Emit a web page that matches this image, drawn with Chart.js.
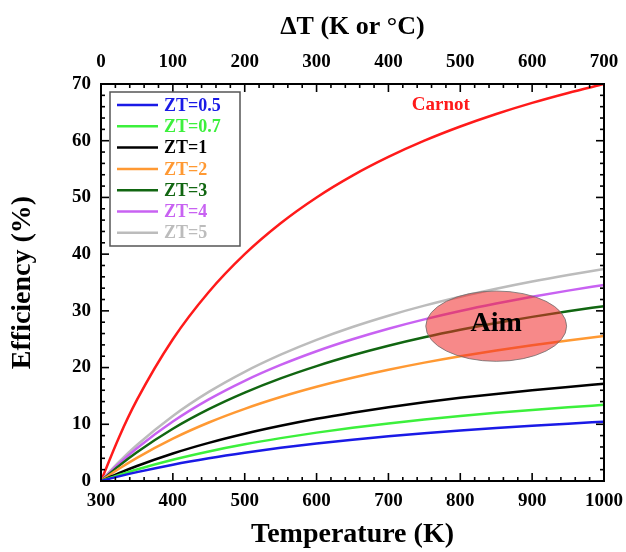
<!DOCTYPE html>
<html lang="en">
<head>
<meta charset="UTF-8">
<title>Efficiency vs Temperature</title>
<style>
  html, body { margin: 0; padding: 0; background: #fff; }
  #wrap { width: 626px; height: 552px; }
</style>
</head>
<body>
<div id="wrap"><canvas id="eff"></canvas></div>
<script src="https://cdn.jsdelivr.net/npm/chart.js"></script>
<script>
// hot side temperature (K), cold side fixed at 300 K
const temperature = [300, 325, 350, 400, 450, 500, 550, 600, 650, 700, 750, 800, 850, 900, 950, 1000];

// efficiency (%)
const carnot = [0, 7.69, 14.29, 25.0, 33.33, 40.0, 45.45, 50.0, 53.85, 57.14, 60.0, 62.5, 64.71, 66.67, 68.42, 70.0];
const zt05 = [0, 0.82, 1.56, 2.88, 4.01, 4.99, 5.85, 6.60, 7.27, 7.87, 8.41, 8.90, 9.34, 9.74, 10.11, 10.45];
const zt07 = [0, 1.06, 2.04, 3.75, 5.21, 6.47, 7.56, 8.53, 9.39, 10.15, 10.84, 11.46, 12.02, 12.53, 13.00, 13.43];
const zt1 = [0, 1.38, 2.64, 4.85, 6.72, 8.33, 9.73, 10.96, 12.04, 13.01, 13.88, 14.66, 15.36, 16.01, 16.59, 17.13];
const zt2 = [0, 2.15, 4.09, 7.47, 10.31, 12.72, 14.80, 16.61, 18.20, 19.61, 20.87, 22.00, 23.01, 23.94, 24.78, 25.55];
const zt3 = [0, 2.67, 5.07, 9.21, 12.66, 15.58, 18.09, 20.26, 22.16, 23.84, 25.33, 26.66, 27.86, 28.94, 29.93, 30.83];
const zt4 = [0, 3.05, 5.78, 10.48, 14.38, 17.66, 20.46, 22.88, 24.99, 26.85, 28.50, 29.97, 31.29, 32.49, 33.57, 34.56];
const zt5 = [0, 3.35, 6.34, 11.47, 15.71, 19.26, 22.28, 24.89, 27.16, 29.15, 30.92, 32.49, 33.90, 35.18, 36.33, 37.38];

const seriesLabels = ['ZT=0.5', 'ZT=0.7', 'ZT=1', 'ZT=2', 'ZT=3', 'ZT=4', 'ZT=5'];
const seriesValues = [zt05, zt07, zt1, zt2, zt3, zt4, zt5];
const seriesColors = ['#1a1ae6', '#3cf03c', '#000000', '#ff9933', '#116611', '#c862f2', '#bcbcbc'];

const SERIF = '"Liberation Serif", "Times New Roman", serif';
Chart.defaults.font.family = SERIF;
Chart.defaults.font.weight = 'bold';
Chart.defaults.color = '#000';

const toPoints = vals => vals.map((v, i) => ({ x: temperature[i], y: v }));
const plainTick = v => String(v);

const datasets = seriesValues.map((vals, i) => ({
    label: seriesLabels[i],
    data: toPoints(vals),
    borderColor: seriesColors[i],
    backgroundColor: seriesColors[i]
}));
datasets.push({
    label: 'Carnot',
    data: toPoints(carnot),
    borderColor: '#ff1a1a',
    backgroundColor: '#ff1a1a'
});

function line(ctx, x1, y1, x2, y2) {
    ctx.beginPath();
    ctx.moveTo(x1, y1);
    ctx.lineTo(x2, y2);
    ctx.stroke();
}

// fixed axis boxes, labels may overhang
function fixBox(size) {
    return s => {
        if (s.isHorizontal()) s.height = size; else s.width = size;
        s.paddingLeft = s.paddingRight = s.paddingTop = s.paddingBottom = 0;
    };
}

// frame, inward ticks, annotations and the boxed legend
const decorations = {
    id: 'decorations',
    afterDatasetsDraw(chart) {
        const ctx = chart.ctx;
        const a = chart.chartArea;
        const xs = chart.scales.x, ys = chart.scales.y;
        ctx.save();

        // Aim ellipse
        const cx = xs.getPixelForValue(850), cy = ys.getPixelForValue(27.3);
        const rx = xs.getPixelForValue(948) - cx, ry = cy - ys.getPixelForValue(33.5);
        ctx.beginPath();
        ctx.ellipse(cx, cy, rx, ry, 0, 0, Math.PI * 2);
        ctx.fillStyle = 'rgba(240, 40, 40, 0.55)';
        ctx.fill();
        ctx.strokeStyle = 'rgba(110, 110, 110, 0.8)';
        ctx.lineWidth = 1;
        ctx.stroke();
        ctx.fillStyle = '#000';
        ctx.font = 'bold 28px ' + SERIF;
        ctx.textAlign = 'center';
        ctx.textBaseline = 'middle';
        ctx.fillText('Aim', cx, cy - 2);

        // Carnot label
        ctx.fillStyle = '#ff1a1a';
        ctx.font = 'bold 19px ' + SERIF;
        ctx.fillText('Carnot', xs.getPixelForValue(773), ys.getPixelForValue(66.3));

        // ticks
        ctx.strokeStyle = '#000';
        ctx.lineWidth = 1.6;
        for (let v = 300; v <= 1000; v += 20) {
            const px = xs.getPixelForValue(v);
            const len = (v - 300) % 100 === 0 ? 8 : 4;
            line(ctx, px, a.bottom, px, a.bottom - len);
            line(ctx, px, a.top, px, a.top + len);
        }
        for (let v = 0; v <= 70; v += 2) {
            const py = ys.getPixelForValue(v);
            const len = v % 10 === 0 ? 8 : 4;
            line(ctx, a.left, py, a.left + len, py);
            line(ctx, a.right, py, a.right - len, py);
        }

        // frame
        ctx.lineWidth = 2;
        ctx.strokeRect(a.left, a.top, a.right - a.left, a.bottom - a.top);

        // legend
        const bx = 110, by = 92, bw = 130, bh = 154, step = 21.3;
        ctx.fillStyle = '#fff';
        ctx.fillRect(bx, by, bw, bh);
        ctx.strokeStyle = '#555';
        ctx.lineWidth = 1.5;
        ctx.strokeRect(bx, by, bw, bh);
        ctx.font = 'bold 18px ' + SERIF;
        ctx.textAlign = 'left';
        ctx.textBaseline = 'middle';
        seriesLabels.forEach((lab, i) => {
            const yy = by + 13 + i * step;
            ctx.strokeStyle = seriesColors[i];
            ctx.lineWidth = 2.5;
            line(ctx, bx + 7, yy, bx + 48, yy);
            ctx.fillStyle = seriesColors[i];
            ctx.fillText(lab, bx + 54, yy + 1);
        });
        ctx.restore();
    }
};

new Chart(document.getElementById('eff'), {
    type: 'line',
    data: { datasets: datasets },
    options: {
        responsive: true,
        maintainAspectRatio: false,
        animation: false,
        layout: { padding: { left: 0, right: 22, top: 0, bottom: 0 } },
        elements: {
            point: { radius: 0 },
            line: { borderWidth: 2.5, cubicInterpolationMode: 'monotone' }
        },
        plugins: {
            legend: { display: false },
            tooltip: { enabled: false }
        },
        scales: {
            x: {
                type: 'linear',
                position: 'bottom',
                min: 300,
                max: 1000,
                ticks: { stepSize: 100, padding: 9, autoSkip: false, callback: plainTick, font: { size: 19, weight: 'bold' } },
                grid: { display: false, drawTicks: false },
                border: { display: false },
                title: { display: true, text: 'Temperature (K)', font: { size: 28, weight: 'bold' }, padding: { top: 0, bottom: 0 } },
                afterFit: fixBox(71)
            },
            x2: {
                type: 'linear',
                axis: 'x',
                position: 'top',
                min: 0,
                max: 700,
                ticks: { stepSize: 100, padding: 11, autoSkip: false, callback: plainTick, font: { size: 19, weight: 'bold' } },
                grid: { display: false, drawTicks: false },
                border: { display: false },
                title: { display: true, text: 'ΔT (K or °C)', font: { size: 26, weight: 'bold' }, padding: { top: 12, bottom: 0 } },
                afterFit: fixBox(84)
            },
            y: {
                min: 0,
                max: 70,
                ticks: { stepSize: 10, padding: 10, autoSkip: false, callback: plainTick, font: { size: 19, weight: 'bold' } },
                grid: { display: false, drawTicks: false },
                border: { display: false },
                title: { display: true, text: 'Efficiency (%)', font: { size: 28, weight: 'bold' }, padding: { top: 6, bottom: 0 } },
                afterFit: fixBox(101)
            }
        }
    },
    plugins: [decorations]
});
</script>
</body>
</html>
